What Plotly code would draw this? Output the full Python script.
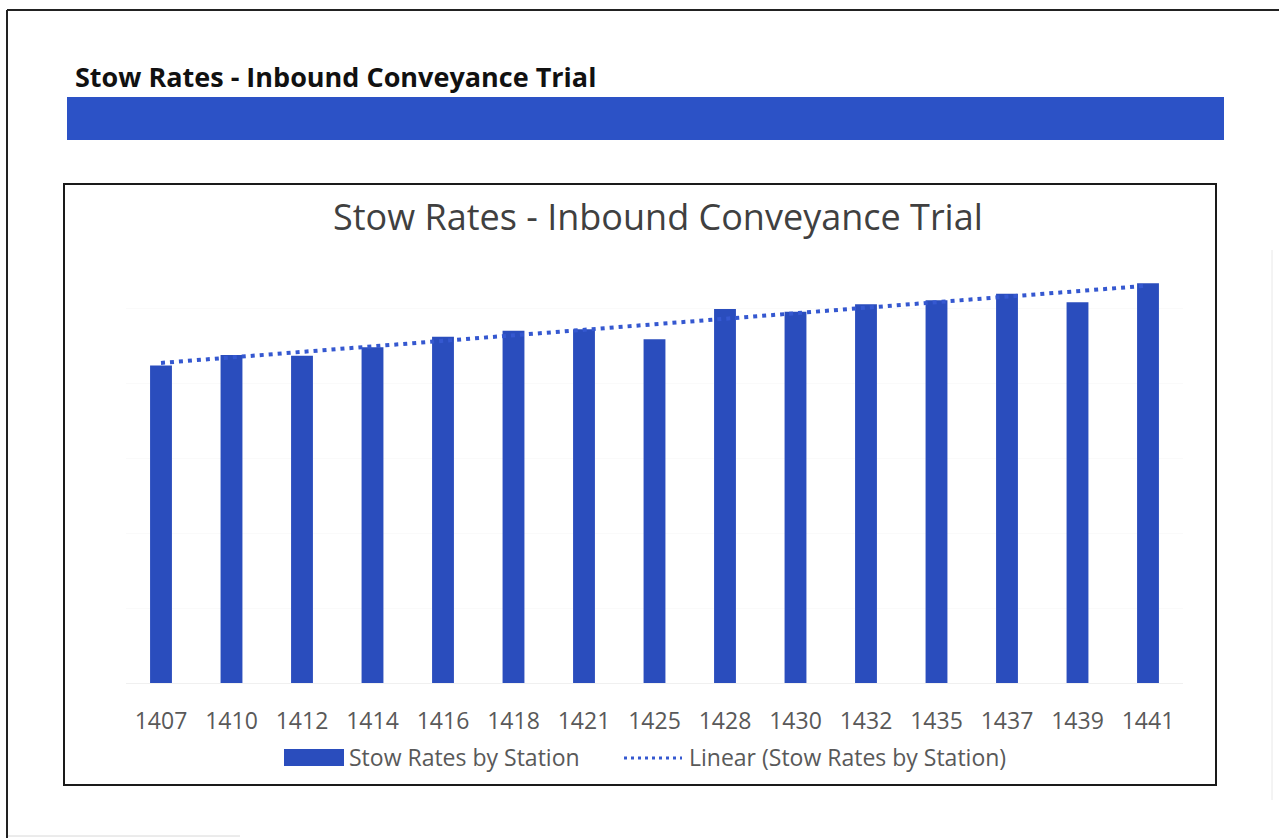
import numpy as np
import plotly.graph_objects as go

# Stow rate per station (units per hour)
stations = ["1407", "1410", "1412", "1414", "1416", "1418", "1421", "1425",
            "1428", "1430", "1432", "1435", "1437", "1439", "1441"]
stow_rates = [127.0, 131.2, 130.9, 134.3, 138.5, 140.9, 141.5, 137.5,
              149.6, 148.5, 151.5, 153.1, 155.7, 152.3, 159.9]

series_name = "Stow Rates by Station"
trend_name = "Linear (Stow Rates by Station)"
page_title = "Stow Rates - Inbound Conveyance Trial"
chart_title = "Stow Rates - Inbound Conveyance Trial"

W, H = 1279, 838
BAR_BLUE = "#2a4dbd"
HEADER_BLUE = "#2c52c6"
TREND_BLUE = "#3558d0"
TEXT_GREY = "#595959"
FONT = "Open Sans"


def px(x):
    return x / W


def py(y):
    return 1 - y / H


# least-squares linear trend over the station index
idx = np.arange(len(stow_rates))
slope, intercept = np.polyfit(idx, stow_rates, 1)
trend = slope * idx + intercept

fig = go.Figure()
fig.add_trace(go.Bar(
    x=stations, y=stow_rates, name=series_name,
    marker=dict(color=BAR_BLUE, line=dict(width=0)),
    width=0.31, showlegend=False,
))
fig.add_trace(go.Scatter(
    x=stations, y=trend, name=trend_name, mode="lines",
    line=dict(color=TREND_BLUE, width=4, dash="4px,5px"),
    showlegend=False,
))

shapes = [
    # page frame
    dict(type="line", xref="paper", yref="paper", x0=px(7), x1=px(7), y0=py(10), y1=py(838),
         line=dict(color="#222222", width=2)),
    dict(type="line", xref="paper", yref="paper", x0=px(7), x1=px(1279), y0=py(10), y1=py(10),
         line=dict(color="#222222", width=2)),
    dict(type="line", xref="paper", yref="paper", x0=px(1272), x1=px(1272), y0=py(250), y1=py(800),
         line=dict(color="#e8e8e8", width=1)),
    dict(type="line", xref="paper", yref="paper", x0=px(8), x1=px(240), y0=py(836), y1=py(836),
         line=dict(color="#d8d8d8", width=1)),
    # header band
    dict(type="rect", xref="paper", yref="paper", x0=px(67), x1=px(1224), y0=py(140), y1=py(97),
         fillcolor=HEADER_BLUE, line=dict(width=0), layer="below"),
    # chart frame
    dict(type="rect", xref="paper", yref="paper", x0=px(64), x1=px(1216), y0=py(785), y1=py(184),
         fillcolor="rgba(0,0,0,0)", line=dict(color="#1a1a1a", width=2)),
    # legend swatches
    dict(type="rect", xref="paper", yref="paper", x0=px(284), x1=px(344), y0=py(766), y1=py(749),
         fillcolor=BAR_BLUE, line=dict(width=0)),
    dict(type="line", xref="paper", yref="paper", x0=px(624), x1=px(682), y0=py(758), y1=py(758),
         line=dict(color=TREND_BLUE, width=3, dash="3px,4px")),
]

annotations = [
    dict(text="<b>" + page_title + "</b>", xref="paper", yref="paper", x=px(73), y=py(77),
         xanchor="left", yanchor="middle", showarrow=False,
         font=dict(family=FONT, size=27, color="#111111")),
    dict(text=chart_title, xref="paper", yref="paper", x=px(658), y=py(216),
         xanchor="center", yanchor="middle", showarrow=False,
         font=dict(family=FONT, size=36, color="#404040")),
    dict(text=series_name, xref="paper", yref="paper", x=px(347), y=py(757),
         xanchor="left", yanchor="middle", showarrow=False,
         font=dict(family=FONT, size=23, color=TEXT_GREY)),
    dict(text=trend_name, xref="paper", yref="paper", x=px(687), y=py(757),
         xanchor="left", yanchor="middle", showarrow=False,
         font=dict(family=FONT, size=23, color=TEXT_GREY)),
]

fig.update_layout(
    width=W, height=H,
    margin=dict(l=0, r=0, t=0, b=0),
    paper_bgcolor="white", plot_bgcolor="white",
    shapes=shapes, annotations=annotations,
    font=dict(family=FONT, color=TEXT_GREY),
    xaxis=dict(
        domain=[px(125.75), px(1183.25)],
        type="category", range=[-0.5, len(stations) - 0.5],
        showgrid=False, zeroline=False, showline=True,
        linecolor="#f0f0f0", linewidth=1,
        ticks="", ticklabelstandoff=17,
        tickfont=dict(family=FONT, size=23, color=TEXT_GREY),
    ),
    yaxis=dict(
        domain=[py(683), py(233)],
        range=[0, 180], dtick=30, tick0=0,
        showgrid=True, gridcolor="#fafafa", gridwidth=1,
        zeroline=False, showline=False, showticklabels=False, ticks="",
    ),
)

fig.write_html("out.html")
